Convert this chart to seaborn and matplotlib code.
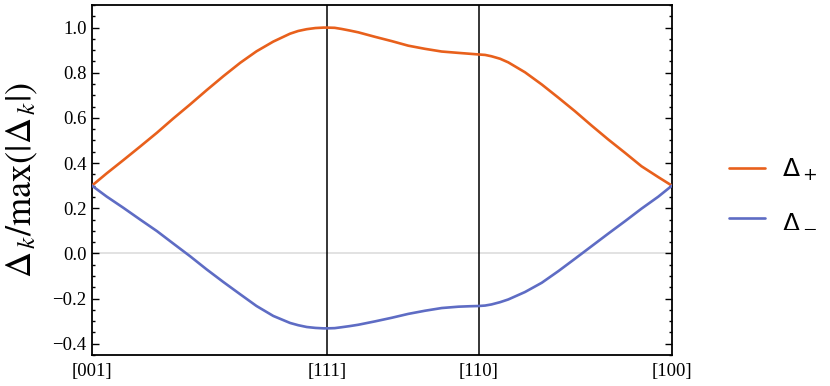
import numpy as np
import pandas as pd
import matplotlib
matplotlib.use("Agg")
import matplotlib.pyplot as plt
import seaborn as sns
from matplotlib.ticker import MultipleLocator
from matplotlib.font_manager import FontProperties

# path along [001] -> [111] -> [110] -> [100], angle in degrees
theta = [0.0, 3.4, 7.3, 11.2, 15.1, 18.9, 22.8, 26.7, 30.6, 34.5, 38.3, 42.2,
         46.1, 48.0, 50.0, 52.0, 53.9, 54.74, 56.5, 58.1, 60.0, 62.0, 65.9,
         69.8, 73.6, 77.5, 81.4, 85.3, 88.0, 90.0, 91.5, 93.0, 95.0, 96.9,
         100.8, 104.7, 108.6, 112.4, 116.3, 120.2, 124.1, 127.9, 131.8, 135.0]

delta_plus = [0.300, 0.354, 0.413, 0.473, 0.534, 0.597, 0.659, 0.723, 0.785,
              0.844, 0.895, 0.938, 0.973, 0.985, 0.993, 0.998, 1.000, 1.000,
              0.999, 0.994, 0.987, 0.979, 0.959, 0.940, 0.920, 0.906, 0.894,
              0.888, 0.884, 0.881, 0.879, 0.873, 0.862, 0.846, 0.802, 0.748,
              0.689, 0.630, 0.566, 0.504, 0.445, 0.386, 0.338, 0.300]

delta_minus = [0.300, 0.252, 0.202, 0.150, 0.099, 0.044, -0.012, -0.071,
               -0.127, -0.181, -0.233, -0.277, -0.308, -0.318, -0.326,
               -0.330, -0.332, -0.332, -0.331, -0.327, -0.322, -0.316, -0.301,
               -0.285, -0.268, -0.254, -0.242, -0.236, -0.234, -0.233, -0.231,
               -0.226, -0.216, -0.204, -0.171, -0.130, -0.078, -0.024, 0.032,
               0.088, 0.143, 0.198, 0.251, 0.300]

tick_pos = [0.0, 54.74, 90.0, 135.0]
tick_labels = ["[001]", "[111]", "[110]", "[100]"]

lab_plus = r"$\Delta_+$"
lab_minus = r"$\Delta_-$"

df = pd.DataFrame({
    "theta": theta + theta,
    "value": delta_plus + delta_minus,
    "branch": [lab_plus] * len(theta) + [lab_minus] * len(theta),
})

sns.set_theme(style="ticks")
plt.rcParams["font.family"] = ["Liberation Serif", "DejaVu Serif"]
plt.rcParams["mathtext.fontset"] = "stix"
plt.rcParams["text.color"] = "black"
plt.rcParams["axes.labelcolor"] = "black"

fig = plt.figure(figsize=(8.3, 3.86), dpi=100)
ax = fig.add_axes([0.1108, 0.0803, 0.6988, 0.9067])

ax.axhline(0, color="#e2e2e2", lw=1.4, zorder=0)
for p in tick_pos[1:3]:
    ax.axvline(p, color="black", lw=1.1, zorder=1)

sns.lineplot(data=df, x="theta", y="value", hue="branch", estimator=None,
             sort=False, palette=["#e8601c", "#5e6cc4"], lw=1.9, ax=ax,
             zorder=3)

ax.set_xlim(0, 135)
ax.set_ylim(-0.45, 1.1)
ax.set_xticks(tick_pos)
ax.set_xticklabels(tick_labels)
ax.yaxis.set_major_locator(MultipleLocator(0.2))
ax.yaxis.set_minor_locator(MultipleLocator(0.05))
ax.tick_params(axis="y", which="both", direction="in", left=True, right=True,
               labelsize=13.5, width=1.0, colors="black", pad=4)
ax.tick_params(axis="y", which="major", length=5)
ax.tick_params(axis="y", which="minor", length=2.5)
ax.tick_params(axis="x", length=0, labelsize=13.5, pad=6, colors="black")
for s in ax.spines.values():
    s.set_linewidth(1.3)
    s.set_color("black")

ax.set_xlabel("")
ax.set_ylabel(r"$\Delta_{\,k}/\mathrm{max}(|\Delta_{\,k}|)$", fontsize=26,
              labelpad=9, color="black")

handles, labels = ax.get_legend_handles_labels()
ax.legend(handles, labels, loc="center left", bbox_to_anchor=(1.06, 0.46),
          frameon=False, handlelength=1.42, handletextpad=0.7,
          labelspacing=1.0, labelcolor="black",
          prop=FontProperties(family="DejaVu Sans", size=18,
                              math_fontfamily="dejavusans"))

fig.savefig("out.png", dpi=100)
